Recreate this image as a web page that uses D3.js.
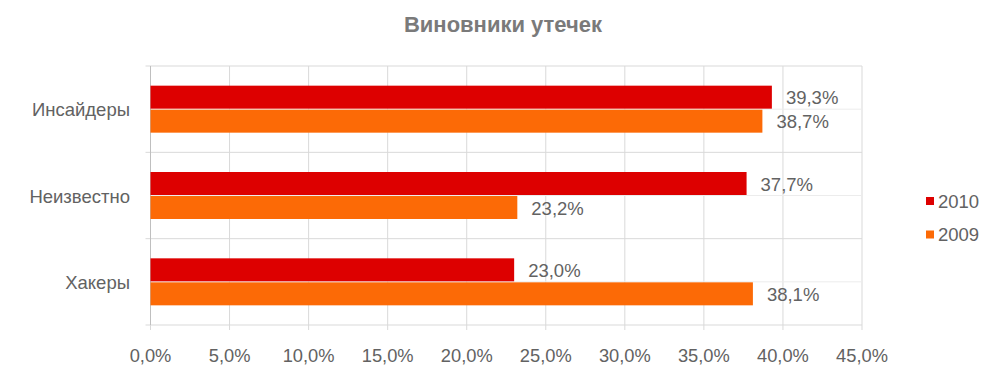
<!DOCTYPE html>
<html><head><meta charset="utf-8">
<script src="https://cdn.jsdelivr.net/npm/d3@7/dist/d3.min.js"></script>
<style>body{margin:0;background:#fff}svg{display:block;font-family:"Liberation Sans",Arial,sans-serif}</style>
</head><body><svg id="c" width="1000" height="380"></svg>
<script>
const categories = ["Инсайдеры", "Неизвестно", "Хакеры"];
const seriesNames = ["2010", "2009"];
const values2010 = [39.3, 37.7, 23.0];
const values2009 = [38.7, 23.2, 38.1];
const xTicks = [0, 5, 10, 15, 20, 25, 30, 35, 40, 45];
const title = "Виновники утечек";
const colors = ["#dd0000", "#fc6a06"];

const svg = d3.select("#c");
const pLeft = 150.5, pRight = 862, pTop = 66, pBottom = 325;
const x = d3.scaleLinear().domain([0, 45]).range([pLeft, pRight]);
const y = d3.scaleBand().domain(categories).range([pTop, pBottom]);
const fmt = v => d3.format(".1f")(v).replace(".", ",") + "%";
const txt = "#626262";

svg.append("text").attr("x", 503).attr("y", 32).attr("text-anchor", "middle")
  .attr("font-size", 22).attr("font-weight", "bold").attr("fill", "#7a7a7a").text(title);

// gridlines
svg.append("g").selectAll("line").data(xTicks).join("line")
  .attr("x1", d => x(d)).attr("x2", d => x(d)).attr("y1", pTop).attr("y2", pBottom + 5)
  .attr("stroke", "#d9d9d9").attr("stroke-width", 1);
const bounds = categories.map(c => y(c)).concat([pBottom]);
svg.append("g").selectAll("line").data(bounds).join("line")
  .attr("x1", pLeft - 5).attr("x2", pRight).attr("y1", d => d).attr("y2", d => d)
  .attr("stroke", "#d9d9d9");
svg.append("g").selectAll("line").data(categories).join("line")
  .attr("x1", pLeft).attr("x2", pRight).attr("y1", d => y(d) + y.bandwidth() / 2).attr("y2", d => y(d) + y.bandwidth() / 2)
  .attr("stroke", "#ececec");
svg.append("line").attr("x1", pLeft).attr("x2", pLeft).attr("y1", pTop).attr("y2", pBottom)
  .attr("stroke", "#bfbfbf");

const barH = 23, gap = 1;
const series = [values2010, values2009];
series.forEach((vals, si) => {
  const g = svg.append("g");
  g.selectAll("rect").data(categories).join("rect")
    .attr("x", x(0))
    .attr("y", (c) => y(c) + y.bandwidth() / 2 + (si === 0 ? -(barH + gap / 2) : gap / 2))
    .attr("width", (c, i) => x(vals[i]) - x(0))
    .attr("height", barH)
    .attr("fill", colors[si]);
  g.selectAll("text").data(categories).join("text")
    .attr("x", (c, i) => x(vals[i]) + 14)
    .attr("y", (c) => y(c) + y.bandwidth() / 2 + (si === 0 ? -(barH + gap / 2) : gap / 2) + barH / 2 + 7)
    .attr("font-size", 18.5).attr("fill", txt)
    .text((c, i) => fmt(vals[i]));
});

// category labels
svg.append("g").selectAll("text").data(categories).join("text")
  .attr("x", 130).attr("y", c => y(c) + y.bandwidth() / 2 + 7)
  .attr("text-anchor", "end").attr("font-size", 18.5).attr("fill", txt).text(c => c);

// x tick labels
svg.append("g").selectAll("text").data(xTicks).join("text")
  .attr("x", d => x(d)).attr("y", 362).attr("text-anchor", "middle")
  .attr("font-size", 18.3).attr("fill", txt).text(d => fmt(d));

// legend
seriesNames.forEach((s, i) => {
  const ly = 201 + i * 33.5;
  svg.append("rect").attr("x", 926).attr("y", ly - 4).attr("width", 8).attr("height", 8).attr("fill", colors[i]);
  svg.append("text").attr("x", 938).attr("y", ly + 6.5).attr("font-size", 18.5).attr("fill", txt).text(s);
});
</script></body></html>
